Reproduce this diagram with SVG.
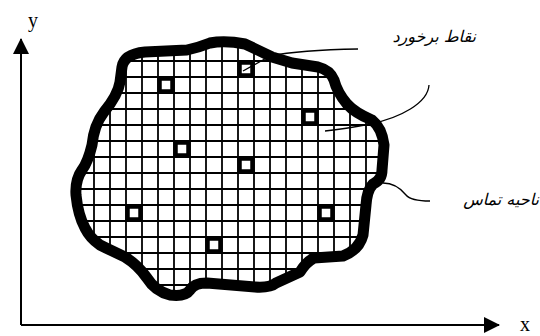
<svg xmlns="http://www.w3.org/2000/svg" width="540" height="336" viewBox="0 0 540 336">
<style>
.grid{stroke:#000;stroke-width:1.8;fill:none}
.blob{fill:none;stroke:#000;stroke-width:11;stroke-linejoin:round;stroke-linecap:round}
.pt{fill:none;stroke:#000;stroke-width:4.5}
.lead{fill:none;stroke:#000;stroke-width:1.3}
.axis{stroke:#000;stroke-width:2;fill:none}
.lbl{font-family:"DejaVu Sans",sans-serif;font-style:italic;font-size:16px}
.ax{font-family:"Liberation Serif",serif;font-size:20px}
</style>
<defs>
<path id="blobPath" d="M122,67 Q124,54 145,52 L187,50 Q200,47 210,43 Q225,40 245,44 Q258,50 272,57 L292,63 L318,67 Q330,70 334,80 Q337,92 347,104 Q355,113 372,120 Q382,128 384,145 L382,170 Q382,180 373,184 Q367,190 366,205 L363,235 Q359,250 343,256 L314,258 Q306,262 300,272 L276,283 Q270,288 255,287 L207,283 Q194,283 190,290 Q185,297 170,295 Q155,291 147,278 Q138,265 125,257 Q110,250 100,245 Q90,238 85,228 Q78,215 76,195 Q75,180 82,170 Q88,162 92,145 Q94,125 104,112 Q118,95 120,82 Z"/>
<clipPath id="clip"><use href="#blobPath"/></clipPath>
<marker id="arr" markerWidth="16" markerHeight="16" refX="15" refY="8" orient="auto" markerUnits="userSpaceOnUse"><path d="M0,0 L16,8 L0,16 Z" fill="#000"/></marker>
</defs>
<g id="axes">
<path class="axis" d="M21,325 L21,39" marker-end="url(#arr)"/>
<path class="axis" d="M21,325 L499,325" marker-end="url(#arr)"/>
<text class="ax" x="28" y="27">y</text>
<text class="ax" x="520" y="331">x</text>
</g>
<g id="region">
<g class="grid" clip-path="url(#clip)">
<path d="M78,30V310M94,30V310M110,30V310M126,30V310M142,30V310M158,30V310M174,30V310M190,30V310M206,30V310M222,30V310M238,30V310M254,30V310M270,30V310M286,30V310M302,30V310M318,30V310M334,30V310M350,30V310M366,30V310M382,30V310"/>
<path d="M60,45H400M60,61H400M60,77H400M60,93H400M60,109H400M60,125H400M60,141H400M60,157H400M60,173H400M60,189H400M60,205H400M60,221H400M60,237H400M60,253H400M60,269H400M60,285H400M60,301H400"/>
</g>
<use href="#blobPath" class="blob"/>
</g>
<g id="points">
<rect class="pt" x="159.5" y="78.5" width="13" height="13"/>
<rect class="pt" x="239.5" y="62.5" width="13" height="13"/>
<rect class="pt" x="303.5" y="110.5" width="13" height="13"/>
<rect class="pt" x="175.5" y="142.5" width="13" height="13"/>
<rect class="pt" x="239.5" y="158.5" width="13" height="13"/>
<rect class="pt" x="127.5" y="206.5" width="13" height="13"/>
<rect class="pt" x="319.5" y="206.5" width="13" height="13"/>
<rect class="pt" x="207.5" y="238.5" width="13" height="13"/>
</g>
<g id="connectors">
<path class="lead" d="M358,49 Q300,50 270,56 L243,71"/>
<path class="lead" d="M429,85 C428,103 400,118 370,124 Q345,129 325,131"/>
<path class="lead" d="M383,183 C395,183 402,190 406,195 C410,200 420,201 430,201"/>
</g>
<g id="labels">
<text class="lbl" x="476" y="42" text-anchor="end">نقاط برخورد</text>
<text class="lbl" x="539" y="205" text-anchor="end">ناحیه تماس</text>
</g>
</svg>
